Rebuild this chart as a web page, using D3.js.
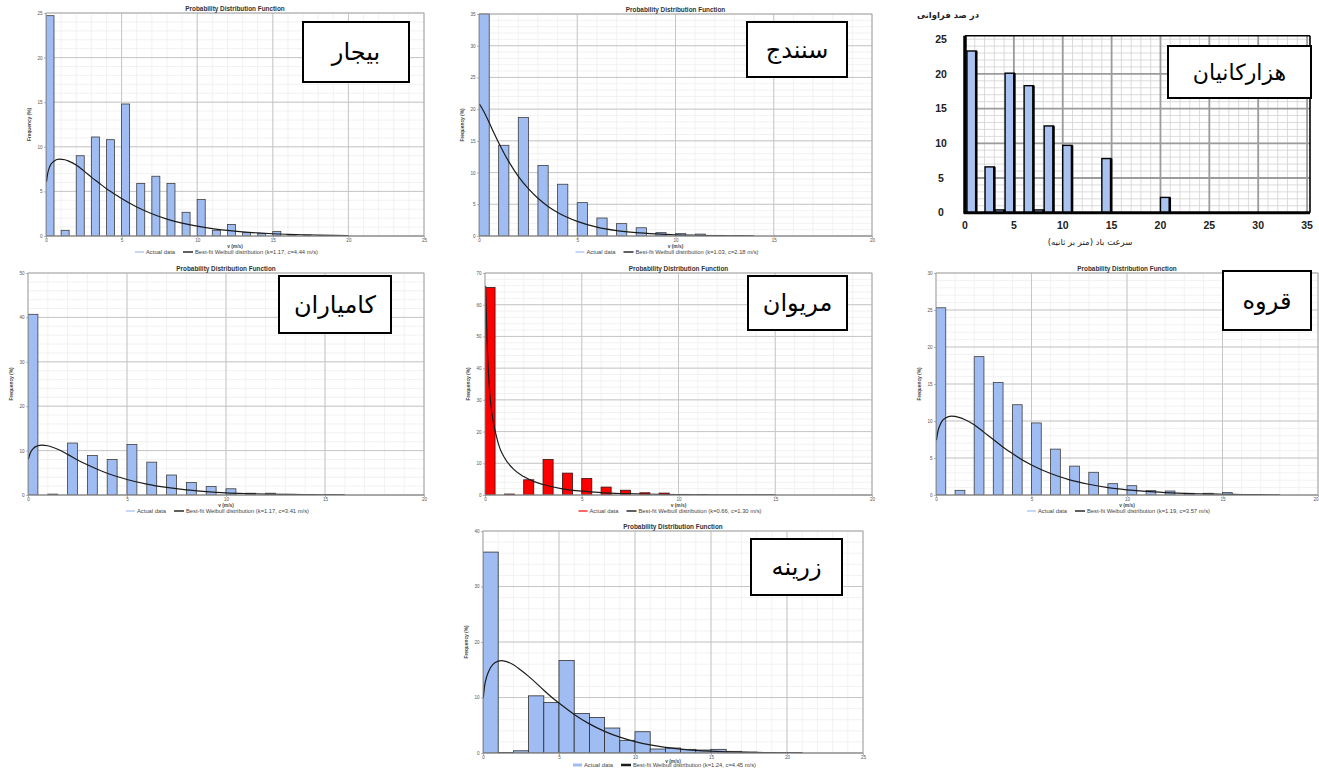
<!DOCTYPE html>
<html><head><meta charset="utf-8">
<script src="https://cdn.jsdelivr.net/npm/d3@7/dist/d3.min.js"></script>
<style>body{margin:0;background:#fff}svg{display:block}</style>
</head><body>
<svg id="c" width="1319" height="769"></svg>
<script>
// ================= DATA =================
const stationNames = ["بیجار","سنندج","هزارکانیان","کامیاران","مریوان","قروه","زرینه"];

// بیجار
const bijarBins = [0,1,2,3,4,5,6,7,8,9,10,11,12,13,14,15,16,17,18,19];
const bijarFreq = [24.7,0.64,9.0,11.1,10.8,14.8,5.9,6.7,5.9,2.66,4.1,0.64,1.3,0.37,0.26,0.52,0.15,0.1,0.05,0.05];
const bijarCurveV = [0.03,0.1,0.25,0.5,0.85,1.25,1.5,2,2.5,3,3.5,4,4.5,5,6,7,8,9,10,11,12,13,14,15,16,17,18,19,20];
const bijarCurveF = [6.1,6.9,7.8,8.35,8.62,8.55,8.4,7.95,7.3,6.6,5.95,5.3,4.75,4.2,3.25,2.5,1.9,1.45,1.1,0.83,0.62,0.46,0.34,0.25,0.19,0.14,0.1,0.07,0.05];
const bijarXTicks = [0,5,10,15,20,25];
const bijarYTicks = [0,5,10,15,20,25];

// سنندج
const sanandajBins = [0,1,2,3,4,5,6,7,8,9,10,11,12,13];
const sanandajFreq = [35.0,14.3,18.7,11.1,8.16,5.26,2.84,1.95,1.3,0.53,0.37,0.3,0.1,0.05];
const sanandajCurveV = [0.02,0.25,0.5,0.75,1,1.5,2,2.5,3,3.5,4,5,6,7,8,9,10,11,12,13,14];
const sanandajCurveF = [20.8,19.6,18.0,16.3,14.7,11.8,9.4,7.5,5.95,4.7,3.7,2.3,1.4,0.85,0.52,0.32,0.19,0.12,0.07,0.04,0.02];
const sanandajXTicks = [0,5,10,15,20];
const sanandajYTicks = [0,5,10,15,20,25,30,35];

// هزارکانیان
const hazarStart = [0.2,2.05,3.07,4.1,6.05,7.1,8.1,10.0,14.0,20.0];
const hazarFreq  = [23.3,6.6,0.4,20.1,18.3,0.4,12.5,9.7,7.8,2.2];
const hazarXTicks = [0,5,10,15,20,25,30,35];
const hazarYTicks = [0,5,10,15,20,25];

// کامیاران
const kamyaranBins = [0,1,2,3,4,5,6,7,8,9,10,11,12,13,14,15];
const kamyaranFreq = [40.7,0.2,11.7,8.9,8.0,11.4,7.4,4.5,2.8,1.9,1.4,0.4,0.4,0.15,0.1,0.05];
const kamyaranCurveV = [0.02,0.1,0.25,0.5,0.67,1,1.5,2,2.5,3,3.5,4,5,6,7,8,9,10,11,12,13,14,15,16];
const kamyaranCurveF = [8.1,9.3,10.4,11.1,11.25,11.1,10.3,9.15,7.9,6.8,5.8,4.9,3.5,2.45,1.7,1.15,0.78,0.5,0.33,0.21,0.13,0.08,0.05,0.03];
const kamyaranXTicks = [0,5,10,15,20];
const kamyaranYTicks = [0,10,20,30,40,50];

// مریوان
const marivanBins = [0,1,2,3,4,5,6,7,8,9,10,11];
const marivanFreq = [65.4,0.3,4.8,11.2,6.9,5.2,2.5,1.5,0.7,0.6,0.2,0.1];
const marivanCurveV = [0.03,0.1,0.2,0.3,0.4,0.55,0.75,1,1.5,2,2.5,3,4,5,6,7,8,10,12,15];
const marivanCurveF = [66,50,36,28.5,24,19.5,15,11.8,8,5.8,4.3,3.3,1.95,1.2,0.75,0.48,0.32,0.14,0.06,0.02];
const marivanXTicks = [0,5,10,15,20];
const marivanYTicks = [0,10,20,30,40,50,60,70];

// قروه
const ghorvehBins = [0,1,2,3,4,5,6,7,8,9,10,11,12,13,14,15,16];
const ghorvehFreq = [25.3,0.63,18.7,15.2,12.2,9.74,6.2,3.9,3.07,1.53,1.26,0.59,0.54,0.23,0.23,0.32,0.05];
const ghorvehCurveV = [0.02,0.1,0.25,0.5,0.8,1.2,1.5,2,2.5,3,3.5,4,5,6,7,8,9,10,11,12,13,14,15,16,17,18];
const ghorvehCurveF = [7.4,8.6,9.7,10.4,10.65,10.5,10.2,9.5,8.5,7.5,6.5,5.6,4.05,2.9,2.05,1.45,1.0,0.7,0.48,0.33,0.22,0.15,0.1,0.07,0.045,0.03];
const ghorvehXTicks = [0,5,10,15,20];
const ghorvehYTicks = [0,5,10,15,20,25,30];

// زرینه
const zarrinehBins = [0,1,2,3,4,5,6,7,8,9,10,11,12,13,14,15,16,17,18,19,20];
const zarrinehFreq = [36.2,0.1,0.4,10.3,9.1,16.65,7.1,6.4,4.5,2.28,3.83,0.72,0.9,0.66,0.54,0.66,0.3,0.15,0.1,0.05,0.05];
const zarrinehCurveV = [0.02,0.1,0.25,0.5,0.8,1.2,1.5,2,2.5,3,3.5,4,4.5,5,6,7,8,9,10,11,12,13,14,15,16,17,18,19,20,21];
const zarrinehCurveF = [9.9,12.0,13.8,15.4,16.3,16.65,16.5,15.9,14.9,13.8,12.6,11.3,10.1,9.0,6.95,5.25,3.9,2.85,2.05,1.45,1.0,0.7,0.48,0.33,0.22,0.15,0.1,0.065,0.04,0.03];
const zarrinehXTicks = [0,5,10,15,20,25];
const zarrinehYTicks = [0,10,20,30,40];

const chartTitle = "Probability Distribution Function";
const xTitle = "v (m/s)";
const yTitle = "Frequency (%)";
const legendActual = "Actual data";
const weibullParams = [["1.17","4.44"],["1.03","2.18"],["1.17","3.41"],["0.66","1.30"],["1.19","3.57"],["1.24","4.45"]];
const hazarYTitle = "در صد فراوانی";
const hazarXTitle = "سرعت باد (متر بر ثانیه)";

// ================= DRAW =================
const LATIN = "'Liberation Sans', Arial, sans-serif";
const ARAB = "'DejaVu Sans', 'Noto Sans', sans-serif";
const svg = d3.select("#c");
svg.append("rect").attr("width",1319).attr("height",769).attr("fill","#fff");
const defs = svg.append("defs");

function steps(max, step){ return d3.range(0, max + 1e-9, step); }

function labelBox(name, bx, by, bw, bh, fs){
  svg.append("rect").attr("x",bx).attr("y",by).attr("width",bw).attr("height",bh)
    .attr("fill","#fff").attr("stroke","#000").attr("stroke-width",2);
  svg.append("text").attr("x",bx+bw/2).attr("y",by+bh/2).attr("dy","0.35em")
    .attr("text-anchor","middle").attr("direction","rtl")
    .attr("font-family",ARAB).attr("font-size",fs).attr("fill","#000").text(name);
}

function drawPDF(p){
  const g = svg.append("g");
  const x = d3.scaleLinear().domain([0,p.xmax]).range([p.x0,p.x0+p.w]);
  const y = d3.scaleLinear().domain([0,p.ymax]).range([p.y0+p.h,p.y0]);
  const cid = "clip_"+p.key;
  defs.append("clipPath").attr("id",cid).append("rect")
    .attr("x",p.x0).attr("y",p.y0-1).attr("width",p.w).attr("height",p.h+1);

  // minor grid
  g.append("g").selectAll("line").data(steps(p.xmax,p.xminor)).join("line")
    .attr("x1",d=>x(d)).attr("x2",d=>x(d)).attr("y1",p.y0).attr("y2",p.y0+p.h)
    .attr("stroke","#ececec").attr("stroke-width",0.7);
  g.append("g").selectAll("line").data(steps(p.ymax,p.yminor)).join("line")
    .attr("y1",d=>y(d)).attr("y2",d=>y(d)).attr("x1",p.x0).attr("x2",p.x0+p.w)
    .attr("stroke","#ececec").attr("stroke-width",0.7);
  // major grid
  g.append("g").selectAll("line").data(p.xticks).join("line")
    .attr("x1",d=>x(d)).attr("x2",d=>x(d)).attr("y1",p.y0).attr("y2",p.y0+p.h)
    .attr("stroke","#c6c6c6").attr("stroke-width",1);
  g.append("g").selectAll("line").data(p.yticks).join("line")
    .attr("y1",d=>y(d)).attr("y2",d=>y(d)).attr("x1",p.x0).attr("x2",p.x0+p.w)
    .attr("stroke","#c6c6c6").attr("stroke-width",1);

  // bars
  g.append("g").attr("clip-path",`url(#${cid})`).selectAll("rect").data(p.bins).join("rect")
    .attr("x",(d,i)=>x(d)).attr("width",x(p.bw)-x(0))
    .attr("y",(d,i)=>y(p.freq[i])).attr("height",(d,i)=>y(0)-y(p.freq[i]))
    .attr("fill",p.color).attr("stroke",p.stroke).attr("stroke-width",0.8);

  // curve
  const pts = p.cv.map((v,i)=>[v,p.cf[i]]);
  g.append("path").attr("clip-path",`url(#${cid})`).datum(pts)
    .attr("d",d3.line().x(d=>x(d[0])).y(d=>y(d[1])).curve(d3.curveMonotoneX))
    .attr("fill","none").attr("stroke","#1c1c1c").attr("stroke-width",1.2);

  // frame
  g.append("rect").attr("x",p.x0).attr("y",p.y0).attr("width",p.w).attr("height",p.h)
    .attr("fill","none").attr("stroke","#a8a8a8").attr("stroke-width",0.8);
  g.append("line").attr("x1",p.x0).attr("x2",p.x0+p.w).attr("y1",y(0)).attr("y2",y(0))
    .attr("stroke","#777").attr("stroke-width",0.8);

  // axes (ticks + labels)
  const ya = d3.axisLeft(y).tickValues(p.yticks).tickSize(2).tickPadding(1.5).tickFormat(d3.format("d"));
  const yg = g.append("g").attr("transform",`translate(${p.x0},0)`).call(ya);
  const xa = d3.axisBottom(x).tickValues(p.xticks).tickSize(2).tickPadding(1).tickFormat(d3.format("d"));
  const xg = g.append("g").attr("transform",`translate(0,${p.y0+p.h})`).call(xa);
  [yg,xg].forEach(a=>{
    a.select(".domain").remove();
    a.selectAll("line").attr("stroke","#888").attr("stroke-width",0.6);
    a.selectAll("text").attr("font-family",LATIN).attr("font-size",4.6).attr("fill","#555");
  });
  if (p.lastTickEnd) xg.selectAll(".tick:last-of-type text").attr("text-anchor","end");

  // titles
  const cx = p.x0 + p.w/2;
  g.append("text").attr("x",cx).attr("y",p.y0-2).attr("text-anchor","middle")
    .attr("font-family",LATIN).attr("font-size",6.4).attr("font-weight","bold").attr("fill","#333").text(chartTitle);
  g.append("text").attr("x",cx).attr("y",p.y0+p.h+(p.xTitleDy||11.5)).attr("text-anchor","middle")
    .attr("font-family",LATIN).attr("font-size",4.8).attr("font-weight","bold").attr("fill","#444").text(xTitle);
  g.append("text").attr("transform",`translate(${p.x0-15},${p.y0+p.h/2}) rotate(-90)`)
    .attr("text-anchor","middle").attr("font-family",LATIN).attr("font-size",4.8).attr("font-weight","bold")
    .attr("fill","#444").text(yTitle);

  // legend
  const lx = cx - 100, ly = p.y0 + p.h + (p.legendDy||16);
  g.append("line").attr("x1",lx).attr("x2",lx+9).attr("y1",ly).attr("y2",ly)
    .attr("stroke",p.color).attr("stroke-width",p.thickLegend?3:1.2);
  g.append("text").attr("x",lx+11).attr("y",ly).attr("dy","0.35em").attr("font-family",LATIN)
    .attr("font-size",5.8).attr("fill","#444").text(legendActual);
  g.append("line").attr("x1",lx+48).attr("x2",lx+58).attr("y1",ly).attr("y2",ly)
    .attr("stroke","#1c1c1c").attr("stroke-width",p.thickLegend?2.5:1.4);
  g.append("text").attr("x",lx+60).attr("y",ly).attr("dy","0.35em").attr("font-family",LATIN)
    .attr("font-size",5.8).attr("fill","#444")
    .text(`Best-fit Weibull distribution (k=${p.wp[0]}, c=${p.wp[1]} m/s)`);
}

const BLUE = "#a0bdf3";

drawPDF({key:"bijar",x0:46,y0:13,w:378,h:223,xmax:25,ymax:25,xminor:1,yminor:1,
  xticks:bijarXTicks,yticks:bijarYTicks,bins:bijarBins,freq:bijarFreq,bw:0.53,
  cv:bijarCurveV,cf:bijarCurveF,color:BLUE,stroke:"#3d3d3d",wp:weibullParams[0]});
drawPDF({key:"sanandaj",x0:479,y0:14,w:393,h:222,xmax:20,ymax:35,xminor:1,yminor:1,
  xticks:sanandajXTicks,yticks:sanandajYTicks,bins:sanandajBins,freq:sanandajFreq,bw:0.52,
  cv:sanandajCurveV,cf:sanandajCurveF,color:BLUE,stroke:"#3d3d3d",wp:weibullParams[1]});
drawPDF({key:"kamyaran",x0:28,y0:273,w:396,h:222,xmax:20,ymax:50,xminor:1,yminor:2,
  xticks:kamyaranXTicks,yticks:kamyaranYTicks,bins:kamyaranBins,freq:kamyaranFreq,bw:0.5,
  cv:kamyaranCurveV,cf:kamyaranCurveF,color:BLUE,stroke:"#3d3d3d",wp:weibullParams[2]});
drawPDF({key:"marivan",x0:485,y0:273,w:387,h:222,xmax:20,ymax:70,xminor:1,yminor:2,
  xticks:marivanXTicks,yticks:marivanYTicks,bins:marivanBins,freq:marivanFreq,bw:0.52,
  cv:marivanCurveV,cf:marivanCurveF,color:"#ff0000",stroke:"#3a1010",wp:weibullParams[3]});
drawPDF({key:"ghorveh",x0:936,y0:273,w:382,h:222,xmax:20,ymax:30,xminor:1,yminor:1,
  xticks:ghorvehXTicks,yticks:ghorvehYTicks,bins:ghorvehBins,freq:ghorvehFreq,bw:0.51,
  cv:ghorvehCurveV,cf:ghorvehCurveF,color:BLUE,stroke:"#3d3d3d",wp:weibullParams[4],lastTickEnd:true});
drawPDF({key:"zarrineh",x0:483,y0:531,w:380,h:222,xmax:25,ymax:40,xminor:1,yminor:2,
  xticks:zarrinehXTicks,yticks:zarrinehYTicks,bins:zarrinehBins,freq:zarrinehFreq,bw:1,
  cv:zarrinehCurveV,cf:zarrinehCurveF,color:BLUE,stroke:"#2e2e2e",wp:weibullParams[5],
  xTitleDy:9.5,legendDy:12,thickLegend:true});

// ---------- هزارکانیان (different style) ----------
(function(){
  const x0=965,y0=35.7,w=345,h=177;
  const x = d3.scaleLinear().domain([0,35.3]).range([x0,x0+w]);
  const y = d3.scaleLinear().domain([0,25.5]).range([y0+h,y0]);
  const g = svg.append("g");
  g.append("g").selectAll("line").data(steps(35,1)).join("line")
    .attr("x1",d=>x(d)).attr("x2",d=>x(d)).attr("y1",y0).attr("y2",y0+h)
    .attr("stroke","#d2d2d2").attr("stroke-width",0.8);
  g.append("g").selectAll("line").data(steps(25,1)).join("line")
    .attr("y1",d=>y(d)).attr("y2",d=>y(d)).attr("x1",x0).attr("x2",x0+w)
    .attr("stroke","#d2d2d2").attr("stroke-width",0.8);
  g.append("g").selectAll("line").data(hazarXTicks.slice(1)).join("line")
    .attr("x1",d=>x(d)).attr("x2",d=>x(d)).attr("y1",y0).attr("y2",y0+h)
    .attr("stroke","#9c9c9c").attr("stroke-width",1.8);
  g.append("g").selectAll("line").data(hazarYTicks.slice(1,5)).join("line")
    .attr("y1",d=>y(d)).attr("y2",d=>y(d)).attr("x1",x0+10).attr("x2",x0+w)
    .attr("stroke","#9c9c9c").attr("stroke-width",1.8);
  // bars
  const bw = 0.95;
  g.append("g").selectAll("rect").data(hazarStart).join("rect")
    .attr("x",d=>x(d)).attr("width",x(bw)-x(0))
    .attr("y",(d,i)=>y(hazarFreq[i])).attr("height",(d,i)=>y(0)-y(hazarFreq[i]))
    .attr("fill","#a9c3f1").attr("stroke","#000").attr("stroke-width",1.4);
  g.append("g").selectAll("line").data(hazarStart).join("line")
    .attr("x1",d=>x(d+bw)).attr("x2",d=>x(d+bw))
    .attr("y1",(d,i)=>y(hazarFreq[i])).attr("y2",y(0))
    .attr("stroke","#000").attr("stroke-width",2.6);
  // frame
  g.append("line").attr("x1",x0).attr("x2",x0+w).attr("y1",y0).attr("y2",y0).attr("stroke","#000").attr("stroke-width",1.6);
  g.append("line").attr("x1",x0+w).attr("x2",x0+w).attr("y1",y0).attr("y2",y0+h).attr("stroke","#000").attr("stroke-width",1.6);
  g.append("line").attr("x1",x0).attr("x2",x0).attr("y1",y0).attr("y2",y0+h+1).attr("stroke","#000").attr("stroke-width",3.5);
  g.append("line").attr("x1",x0-1).attr("x2",x0+w).attr("y1",y0+h).attr("y2",y0+h).attr("stroke","#000").attr("stroke-width",3);
  // tick labels
  g.append("g").selectAll("text").data(hazarYTicks).join("text")
    .attr("x",x0-24).attr("y",d=>y(d)).attr("dy","0.35em").attr("text-anchor","middle")
    .attr("font-family",LATIN).attr("font-weight","bold").attr("font-size",10.5).attr("fill","#222").text(d=>d);
  g.append("g").selectAll("text").data(hazarXTicks).join("text")
    .attr("x",d=>x(d)).attr("y",y0+h+16).attr("text-anchor","middle")
    .attr("font-family",LATIN).attr("font-weight","bold").attr("font-size",10.5).attr("fill","#222").text(d=>d);
  g.append("text").attr("x",948).attr("y",18).attr("text-anchor","middle").attr("direction","rtl")
    .attr("font-family",ARAB).attr("font-weight","bold").attr("font-size",8.5).attr("fill","#222").text(hazarYTitle);
  g.append("text").attr("x",1090).attr("y",245).attr("text-anchor","middle").attr("direction","rtl")
    .attr("font-family",ARAB).attr("font-size",8.5).attr("fill","#222").text(hazarXTitle);
})();

// ---------- station label boxes ----------
labelBox(stationNames[0],303,22,106,60,24);
labelBox(stationNames[1],747,22,100,55,24);
labelBox(stationNames[2],1168,46,143,52,22);
labelBox(stationNames[3],279,276,112,57,24);
labelBox(stationNames[4],748,276,99,54,24);
labelBox(stationNames[5],1223,271,88,59,24);
labelBox(stationNames[6],751,539,91,56,24);
</script>
</body></html>
